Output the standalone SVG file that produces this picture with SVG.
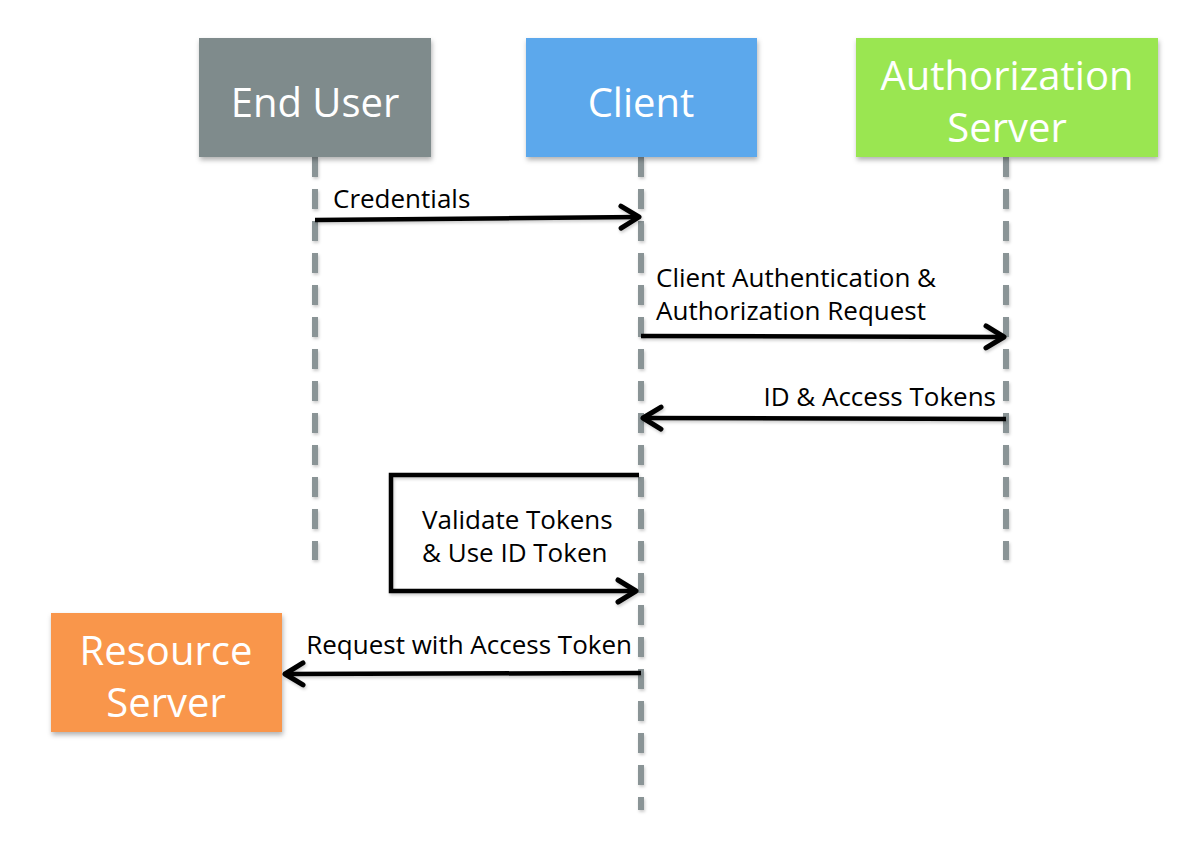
<svg xmlns="http://www.w3.org/2000/svg" width="1200" height="850" viewBox="0 0 1200 850">
<defs>
<filter id="sh" x="-10%" y="-10%" width="125%" height="130%">
<feDropShadow dx="1" dy="3" stdDeviation="2.5" flood-color="#000" flood-opacity="0.3"/>
</filter>
<filter id="lsh" x="-20%" y="-20%" width="140%" height="140%">
<feDropShadow dx="1" dy="2" stdDeviation="1.5" flood-color="#000" flood-opacity="0.2"/>
</filter>
<marker id="ah" markerUnits="userSpaceOnUse" viewBox="0 0 24 28" refX="21" refY="14" markerWidth="24" markerHeight="28" orient="auto">
<path d="M3,3 L21,14 L3,25" fill="none" stroke="#000" stroke-width="5" stroke-linecap="round" stroke-linejoin="round"/>
</marker>
</defs>
<style>
.box{filter:url(#sh)}
.bt{font-family:"Open Sans","Noto Sans",sans-serif;font-size:40px;fill:#fff;text-anchor:middle}
.life{stroke:#8a9496;stroke-width:6;stroke-dasharray:20 12;fill:none}
.msg{stroke:#000;stroke-width:4.5;fill:none;marker-end:url(#ah)}
.lbl{font-family:"Open Sans","Noto Sans",sans-serif;font-size:26px;fill:#000}
</style>
<rect width="1200" height="850" fill="#fff"/>
<g id="lifelines" filter="url(#lsh)">
<line class="life" x1="315" y1="157" x2="315" y2="560"/>
<line class="life" x1="641" y1="157" x2="641" y2="810"/>
<line class="life" x1="1006" y1="157" x2="1006" y2="560"/>
</g>
<g id="end-user">
<rect class="box" x="199" y="38" width="232" height="119" fill="#7f8b8c"/>
<text class="bt" x="315" y="117">End User</text>
</g>
<g id="client">
<rect class="box" x="526" y="38" width="231" height="119" fill="#5ba8ec"/>
<text class="bt" x="641" y="117">Client</text>
</g>
<g id="authorization-server">
<rect class="box" x="856" y="38" width="302" height="119" fill="#9ae651"/>
<text class="bt" x="1007" y="90">Authorization</text>
<text class="bt" x="1007" y="142">Server</text>
</g>
<g id="resource-server">
<rect class="box" x="51" y="613" width="231" height="119" fill="#f9964b"/>
<text class="bt" x="166" y="665">Resource</text>
<text class="bt" x="166" y="717">Server</text>
</g>
<g id="connectors" filter="url(#lsh)">
<line class="msg" x1="315" y1="220" x2="639" y2="217"/>
<line class="msg" x1="641" y1="336" x2="1004" y2="337"/>
<line class="msg" x1="1006" y1="419" x2="643" y2="418"/>
<path class="msg" d="M639,475 L391,475 L391,591 L636,591"/>
<line class="msg" x1="641" y1="673" x2="285" y2="674"/>
</g>
<g id="labels">
<text class="lbl" x="333" y="208">Credentials</text>
<text class="lbl" x="656" y="287">Client Authentication &amp;</text>
<text class="lbl" x="656" y="320">Authorization Request</text>
<text class="lbl" x="996" y="406" text-anchor="end">ID &amp; Access Tokens</text>
<text class="lbl" x="422" y="529">Validate Tokens</text>
<text class="lbl" x="422" y="562">&amp; Use ID Token</text>
<text class="lbl" x="632" y="654" text-anchor="end">Request with Access Token</text>
</g>
</svg>
